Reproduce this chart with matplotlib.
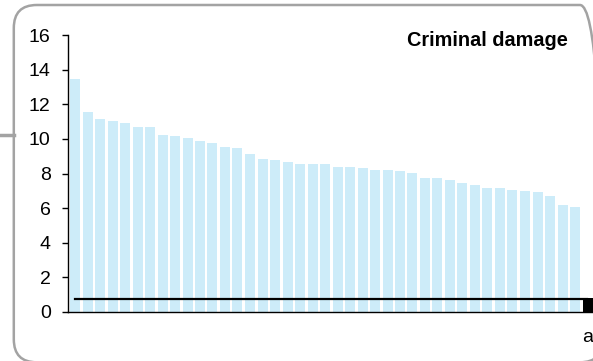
import matplotlib
matplotlib.use("Agg")
import matplotlib.pyplot as plt
from matplotlib.patches import FancyBboxPatch
from matplotlib.lines import Line2D

plt.rcParams['font.family'] = ['Liberation Sans', 'DejaVu Sans']

# values (rates, sorted descending)
area_values = [13.46, 11.54, 11.15, 11.05, 10.92, 10.69, 10.69, 10.23, 10.17, 10.07,
               9.88, 9.74, 9.53, 9.47, 9.13, 8.82, 8.76, 8.67, 8.57, 8.57,
               8.55, 8.38, 8.38, 8.32, 8.22, 8.18, 8.15, 8.03, 7.74, 7.72,
               7.60, 7.43, 7.32, 7.18, 7.18, 7.05, 6.97, 6.95, 6.70, 6.20, 6.08]
highlight_value = 0.8
highlight_label = "a"
reference_line = 0.77
y_ticks = [0, 2, 4, 6, 8, 10, 12, 14, 16]
title = "Criminal damage"

W, H = 593, 361
fig = plt.figure(figsize=(W / 100, H / 100), dpi=100)

# rounded panel border (in inches so corners stay round)
box = FancyBboxPatch((0.138, -0.013), 6.03 - 0.138, 3.56 + 0.013,
                     boxstyle="round,pad=0,rounding_size=0.23",
                     transform=fig.dpi_scale_trans, fill=False,
                     edgecolor="#a3a3a3", linewidth=1.8, clip_on=False)
fig.patches.append(box)
fig.lines.append(Line2D([0, 13.8 / W], [1 - 134.8 / H, 1 - 134.8 / H],
                        transform=fig.transFigure, color="#a3a3a3", linewidth=2.5))

x0, x1 = -0.56, 41.6
pitch = 12.5
ax = fig.add_axes([68 / W, 49 / H, (x1 - x0) * pitch / W, 277 / H])

n = len(area_values)
ax.bar(range(n), area_values, width=0.8, color="#cdecf9", edgecolor="none")
ax.bar([n], [highlight_value], width=0.8, color="black")
ax.plot([0, n], [reference_line, reference_line], color="black", linewidth=1.6)

ax.set_xlim(x0, x1)
ax.set_ylim(0, 16)
ax.set_yticks(y_ticks)
ax.set_yticklabels([str(t) for t in y_ticks], fontsize=14)
ax.set_xticks([n])
ax.set_xticklabels([highlight_label], fontsize=14)
ax.tick_params(axis='y', length=4.5, width=1, pad=8, direction='out')
ax.tick_params(axis='x', length=0, pad=12)

for s in ['top', 'right']:
    ax.spines[s].set_visible(False)
for s in ['left', 'bottom']:
    ax.spines[s].set_linewidth(1)

fig.text(568 / W, 1 - 46 / H, title, ha='right', va='baseline',
         fontsize=14.3, fontweight='bold')

fig.savefig("out.png", dpi=100)
